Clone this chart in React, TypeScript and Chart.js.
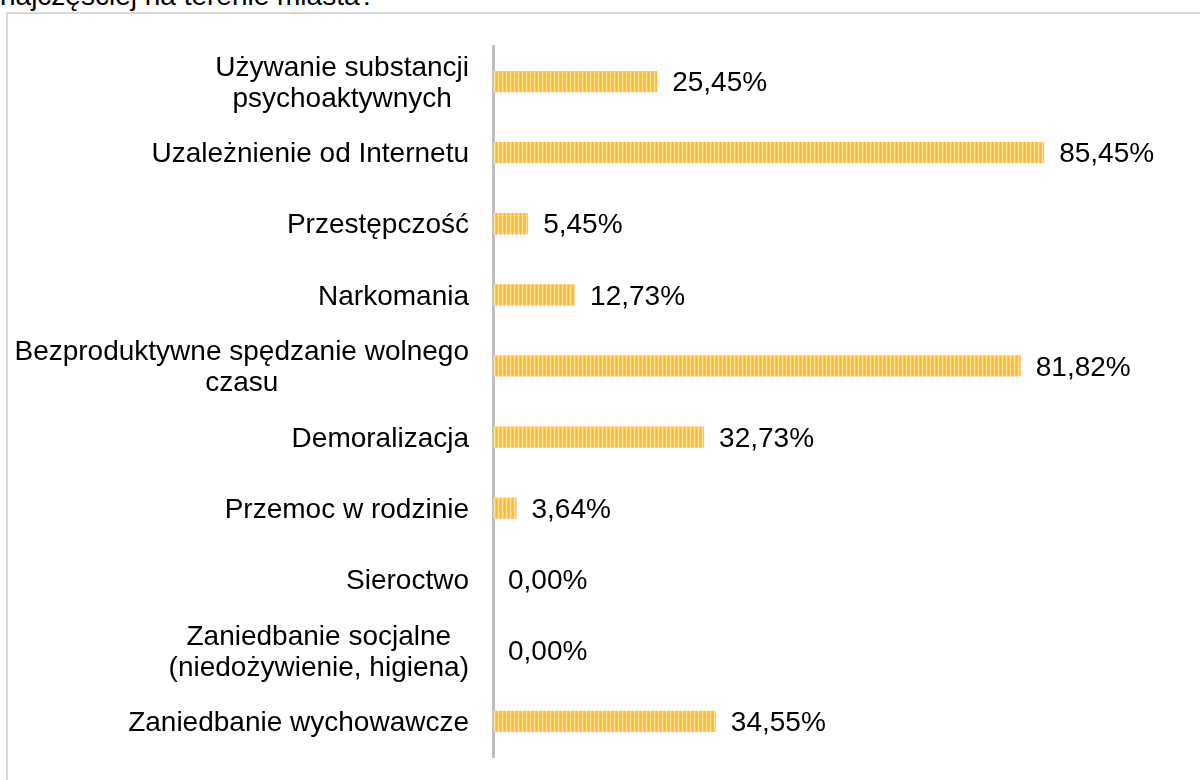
import React, { useEffect, useRef } from "react";
import { Chart, registerables } from "chart.js";

Chart.register(...registerables);

const categories: string[] = [
  "Używanie substancji\npsychoaktywnych",
  "Uzależnienie od Internetu",
  "Przestępczość",
  "Narkomania",
  "Bezproduktywne spędzanie wolnego\nczasu",
  "Demoralizacja",
  "Przemoc w rodzinie",
  "Sieroctwo",
  "Zaniedbanie socjalne\n(niedożywienie, higiena)",
  "Zaniedbanie wychowawcze",
];

const values: number[] = [25.45, 85.45, 5.45, 12.73, 81.82, 32.73, 3.64, 0.0, 0.0, 34.55];

const FONT = '28px Arial, "Liberation Sans", sans-serif';

function makePattern(): CanvasPattern | string {
  const pc = document.createElement("canvas");
  pc.width = 4;
  pc.height = 4;
  const c = pc.getContext("2d");
  if (!c) return "#FFC000";
  const cols = ["#FFB833", "#FFC24D", "#FFE2A6", "#FFC653"];
  cols.forEach((col, i) => {
    c.fillStyle = col;
    c.fillRect(i, 0, 1, 4);
  });
  const p = c.createPattern(pc, "repeat");
  return p || "#FFC000";
}

const labelsPlugin = {
  id: "customLabels",
  afterDatasetsDraw(chart: any) {
    const ctx = chart.ctx;
    const yScale = chart.scales.y;
    const area = chart.chartArea;
    ctx.save();
    ctx.font = FONT;
    ctx.fillStyle = "#000000";
    ctx.textBaseline = "middle";
    // category labels
    const rightEdge = area.left - 24;
    const lineH = 31;
    categories.forEach((cat, i) => {
      const lines = cat.split("\n");
      const maxW = Math.max(...lines.map((l) => ctx.measureText(l).width));
      const cx = rightEdge - maxW / 2;
      const cy = yScale.getPixelForValue(i) + 2;
      ctx.textAlign = "center";
      lines.forEach((l, j) => {
        const y = cy + (j - (lines.length - 1) / 2) * lineH;
        ctx.fillText(l, cx, y);
      });
    });
    // value labels
    const meta = chart.getDatasetMeta(0);
    ctx.textAlign = "left";
    meta.data.forEach((bar: any, i: number) => {
      const txt = values[i].toFixed(2).replace(".", ",") + "%";
      ctx.fillText(txt, bar.x + 15, bar.y + 2);
    });
    ctx.restore();
  },
};

export default function App() {
  const ref = useRef<HTMLCanvasElement | null>(null);
  useEffect(() => {
    if (!ref.current) return;
    const chart = new Chart(ref.current, {
      type: "bar",
      data: {
        labels: categories,
        datasets: [
          {
            data: values,
            backgroundColor: makePattern() as any,
            borderWidth: 0,
            categoryPercentage: 1,
            barPercentage: 0.3,
          },
        ],
      },
      options: {
        indexAxis: "y",
        responsive: false,
        animation: false,
        devicePixelRatio: 1,
        layout: { padding: { left: 493, right: 62, top: 46, bottom: 23 } },
        plugins: {
          legend: { display: false },
          tooltip: { enabled: false },
          title: { display: false },
        },
        scales: {
          x: { display: false, min: 0, max: 100 },
          y: {
            display: true,
            ticks: { display: false },
            grid: { display: false },
            border: { display: true, color: "#BFBFBF", width: 3 },
            afterFit: (s: any) => {
              s.width = 0;
            },
          },
        },
      },
      plugins: [labelsPlugin],
    });
    return () => chart.destroy();
  }, []);

  return (
    <div
      style={{
        position: "fixed",
        left: 0,
        top: 0,
        width: 1200,
        height: 780,
        overflow: "hidden",
        background: "#ffffff",
      }}
    >
      <div
        style={{
          position: "absolute",
          left: 0,
          top: -20,
          font: FONT,
          color: "#000",
          whiteSpace: "nowrap",
        }}
      >
        najczęściej na terenie miasta?
      </div>
      <div
        style={{
          position: "absolute",
          left: 6,
          top: 12,
          width: 1400,
          height: 1000,
          border: "2px solid #D9D9D9",
          boxSizing: "border-box",
        }}
      />
      <canvas
        ref={ref}
        width={1200}
        height={780}
        style={{ position: "absolute", left: 0, top: 0, width: 1200, height: 780 }}
      />
    </div>
  );
}
